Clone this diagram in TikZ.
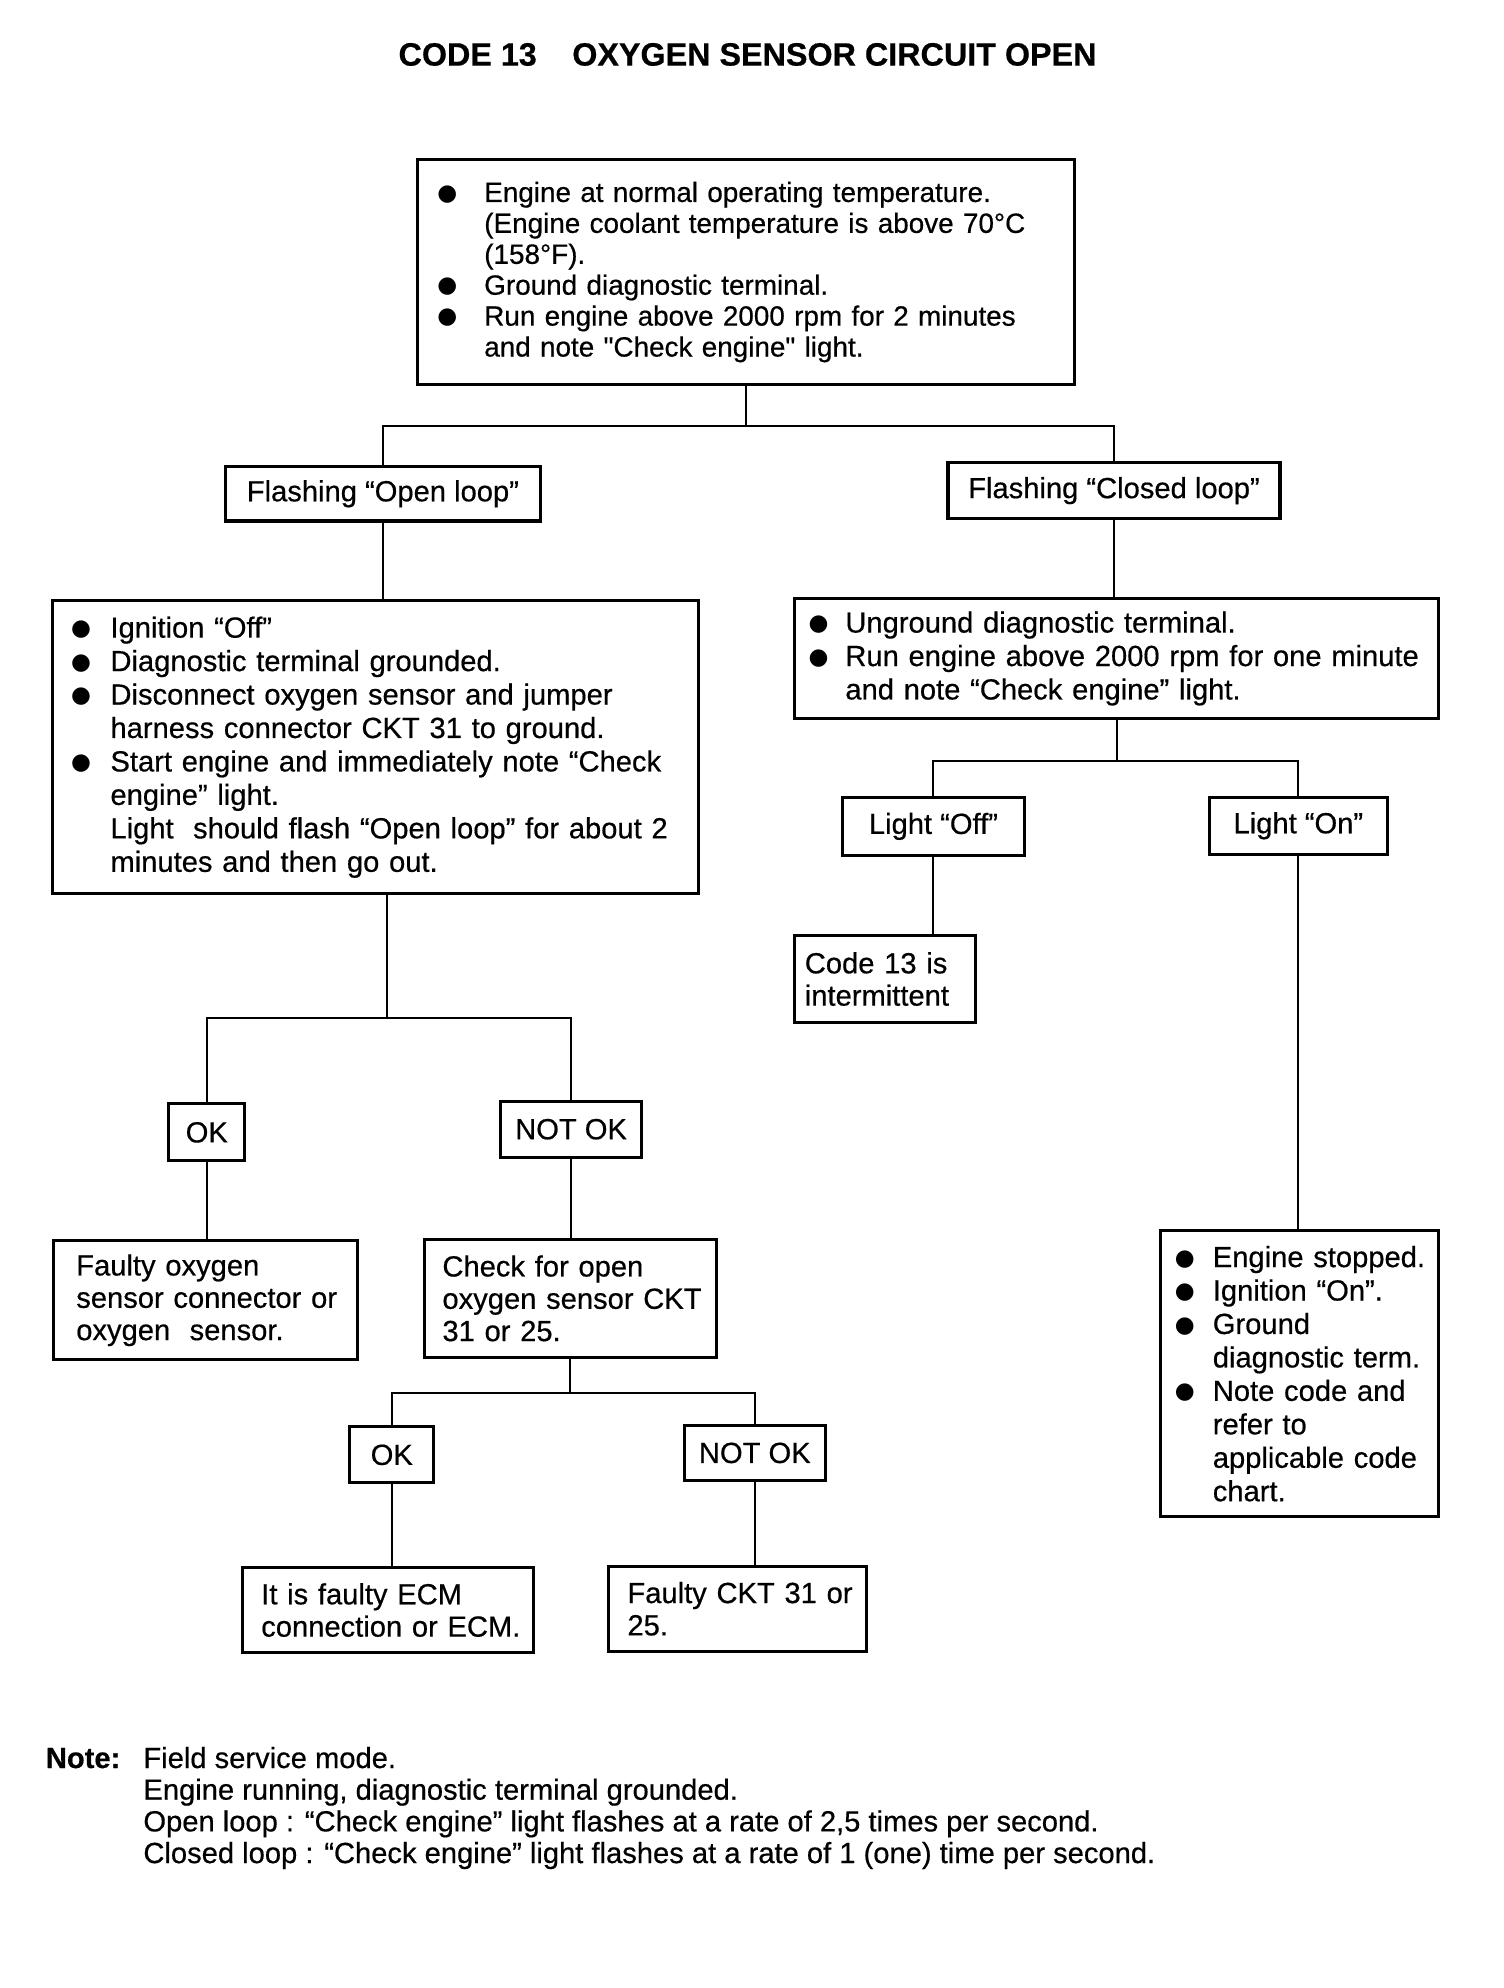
\documentclass[tikz,border=0pt]{standalone}
\usepackage{fontspec}
\setmainfont{Liberation Sans}[FakeBold=0.5]
\newfontfamily\plainq{Liberation Sans}[FakeBold=0.5]
\newfontfamily\dejavu{DejaVu Sans}
\newcommand\sq{{\plainq"}}
\newcommand\bul{\raisebox{1.5pt}{\dejavu\fontsize{18}{18}\selectfont ●}}
% bullet line: #1 left gap, #2 bullet column, #3 text
\newcommand\bitem[3]{\mbox{\hspace*{#1}\makebox[#2][l]{\bul}#3}}
\newcommand\citem[3]{\mbox{\hspace*{#1}\hspace*{#2}#3}}
\newcommand\pitem[2]{\mbox{\hspace*{#1}#2}}
\newcommand\fA{\fontsize{22}{24.4}\selectfont}
\newcommand\fB{\fontsize{23}{26.4}\selectfont}
\newcommand\fC{\fontsize{23}{25.5}\selectfont}
\begin{document}
\begin{tikzpicture}[x=1pt,y=-1pt,
  box/.style={draw, line width=2.4pt, inner xsep=0pt, inner ysep=0pt, anchor=north west, align=left},
  lbl/.style={draw, line width=2.4pt, inner sep=0pt, anchor=north west, align=center, font=\fB},
  conn/.style={line width=1.6pt}]
\useasboundingbox (0,0) rectangle (1187,1569);

\node[font=\bfseries\fontsize{25.5}{30}\selectfont] (title) at (590,43)
  {CODE 13\hspace{28pt}OXYGEN SENSOR CIRCUIT OPEN};

% top box
\node[box, font=\fA, text width=519pt, minimum height=177pt] (b1) at (328,125) {%
\bitem{16pt}{37pt}{Engine at normal operating temperature.}\\
\citem{16pt}{37pt}{(Engine coolant temperature is above 70°C}\\
\citem{16pt}{37pt}{(158°F).}\\
\bitem{16pt}{37pt}{Ground diagnostic terminal.}\\
\bitem{16pt}{37pt}{Run engine above 2000 rpm for 2 minutes}\\
\citem{16pt}{37pt}{and note \sq Check engine\sq{} light.}};

\node[lbl, minimum width=248pt, minimum height=43pt] (ol) at (177,367) {Flashing ``Open loop''};
\node[lbl, minimum width=262pt, minimum height=44pt] (cl) at (747,364) {Flashing ``Closed loop''};

% left big box
\node[box, font=\fB, text width=510pt, minimum height=231pt] (lb) at (40,473) {%
\bitem{15pt}{31pt}{Ignition ``Off''}\\
\bitem{15pt}{31pt}{Diagnostic terminal grounded.}\\
\bitem{15pt}{31pt}{Disconnect oxygen sensor and jumper}\\
\citem{15pt}{31pt}{harness connector CKT 31 to ground.}\\
\bitem{15pt}{31pt}{Start engine and immediately note ``Check}\\
\citem{15pt}{31pt}{engine'' light.}\\
\citem{15pt}{31pt}{Light\ \ should flash ``Open loop'' for about 2}\\
\citem{15pt}{31pt}{minutes and then go out.}};

% right box
\node[box, font=\fB, text width=508pt, minimum height=95pt] (rb) at (626,471) {%
\bitem{11pt}{29pt}{Unground diagnostic terminal.}\\
\bitem{11pt}{29pt}{Run engine above 2000 rpm for one minute}\\
\citem{11pt}{29pt}{and note ``Check engine'' light.}};

\node[lbl, minimum width=143pt, minimum height=46pt] (loff) at (664,628) {Light ``Off''};
\node[lbl, minimum width=141pt, minimum height=45pt] (lon) at (953,628) {Light ``On''};

\node[box, font=\fC, text width=143pt, minimum height=69pt] (c13) at (626,737) {%
\pitem{8pt}{Code 13 is}\\
\pitem{8pt}{intermittent}};

% bottom right box
\node[box, font=\fB, text width=219pt, minimum height=226pt] (br) at (915,970) {%
\bitem{11pt}{30pt}{Engine stopped.}\\
\bitem{11pt}{30pt}{Ignition ``On''.}\\
\bitem{11pt}{30pt}{Ground}\\
\citem{11pt}{30pt}{diagnostic term.}\\
\bitem{11pt}{30pt}{Note code and}\\
\citem{11pt}{30pt}{refer to}\\
\citem{11pt}{30pt}{applicable code}\\
\citem{11pt}{30pt}{chart.}};

\node[lbl, minimum width=60pt, minimum height=45pt] (ok1) at (132,870) {OK};
\node[lbl, minimum width=111pt, minimum height=44pt] (nok1) at (394,868) {NOT OK};

\node[box, font=\fC, text width=240pt, minimum height=94pt] (fo) at (41,978) {%
\pitem{18pt}{Faulty oxygen}\\
\pitem{18pt}{sensor connector or}\\
\pitem{18pt}{oxygen\ \ sensor.}};

\node[box, font=\fC, text width=230pt, minimum height=93pt] (ck) at (334,977) {%
\pitem{14pt}{Check for open}\\
\pitem{14pt}{oxygen sensor CKT}\\
\pitem{14pt}{31 or 25.}};

\node[lbl, minimum width=66pt, minimum height=44pt] (ok2) at (275,1125) {OK};
\node[lbl, minimum width=111pt, minimum height=43pt] (nok2) at (539,1124) {NOT OK};

\node[box, font=\fC, text width=230pt, minimum height=67pt] (ecm) at (190,1236) {%
\pitem{15pt}{It is faulty ECM}\\
\pitem{15pt}{connection or ECM.}};

\node[box, font=\fC, text width=204pt, minimum height=67pt] (fckt) at (479,1235) {%
\pitem{15pt}{Faulty CKT 31 or}\\
\pitem{15pt}{25.}};

% note
\node[anchor=north west, inner sep=0pt, align=left, font=\fontsize{23}{25}\selectfont] (note) at (36,1378.5) {%
\makebox[77pt][l]{\textbf{Note:}}Field service mode.\\
\hspace*{77pt}Engine running, diagnostic terminal grounded.\\
\hspace*{77pt}Open loop : ``Check engine'' light flashes at a rate of 2,5 times per second.\\
\hspace*{77pt}Closed loop : ``Check engine'' light flashes at a rate of 1 (one) time per second.};

% connectors
\draw[conn] (b1.south) -- ++(0,32) coordinate (j1);
\draw[conn] (ol.north) |- (j1) -| (cl.north);
\draw[conn] (ol.south) -- (ol.south |- lb.north);
\draw[conn] (cl.south) -- (cl.south |- rb.north);
\draw[conn] (rb.south) -- ++(0,32) coordinate (j3);
\draw[conn] (loff.north) |- (j3) -| (lon.north);
\draw[conn] (loff.south) -- (loff.south |- c13.north);
\draw[conn] (lon.south) -- (lon.south |- br.north);
\draw[conn] ([xshift=9pt]lb.south) -- ++(0,97) coordinate (j2);
\draw[conn] (ok1.north) |- (j2) -| (nok1.north);
\draw[conn] (ok1.south) -- (ok1.south |- fo.north);
\draw[conn] (nok1.south) -- (nok1.south |- ck.north);
\draw[conn] (ck.south) -- ++(0,27) coordinate (j4);
\draw[conn] (ok2.north) |- (j4) -| (nok2.north);
\draw[conn] (ok2.south) -- (ok2.south |- ecm.north);
\draw[conn] (nok2.south) -- (nok2.south |- fckt.north);
\end{tikzpicture}
\end{document}
